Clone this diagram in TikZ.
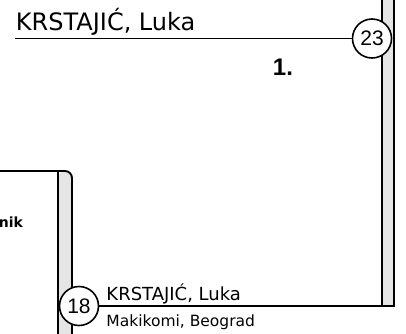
\documentclass[tikz,border=0pt]{standalone}
\usepackage{fontspec}
\setmainfont{DejaVu Sans}
\newfontfamily\arialfont{Liberation Sans}
\usetikzlibrary{positioning}

\begin{document}
\begin{tikzpicture}[x=1pt,y=-1pt,line width=1.9pt,
    seed/.style={draw,circle,fill=white,inner sep=0pt,minimum size=39pt,line width=1.6pt,
      font=\arialfont\fontsize{21}{21}\selectfont},
    player/.style={anchor=base west,inner sep=0pt},
    stripfill/.style={fill=black!10}]
  \useasboundingbox (0,0) rectangle (406,333);
  % right bracket strip
  \fill[stripfill] (382,-5) rectangle (394,306);
  \draw (382,-5) -- (382,306);
  \draw (394,-5) -- (394,306);
  % left box strip
  \fill[stripfill,rounded corners=7pt] (58,340) -- (58,171) -- (72,171) -- (72,340);
  \draw[rounded corners=7pt] (-5,171) -- (72,171) -- (72,340);
  \draw (58,171) -- (58,340);
  % seeds
  \node[seed] (seed23) at (372,38.5) {23};
  \node[seed] (seed18) at (79,306) {18};
  \coordinate (topstart) at (15,38.5);
  \coordinate (botend) at (395,306);
  \draw (topstart) -- (seed23.west);
  \draw (seed18.east) -- (botend);
  % names
  \node[player,font=\fontsize{24}{24}\selectfont] (topname) at (15,30) {KRSTAJIĆ, Luka};
  \node[player,font=\fontsize{18}{18}\selectfont] (botname) at (105.5,300) {KRSTAJIĆ, Luka};
  \node[player,font=\fontsize{15.5}{15.5}\selectfont] (botclub) at (105.5,326) {Makikomi, Beograd};
  \node[player,font=\arialfont\bfseries\fontsize{24}{24}\selectfont] (place) at (272,75) {1.};
  \node[anchor=base east,inner sep=0pt,font=\bfseries\fontsize{14}{14}\selectfont] (boxtitle) at (24,227) {nik};
\end{tikzpicture}
\end{document}
